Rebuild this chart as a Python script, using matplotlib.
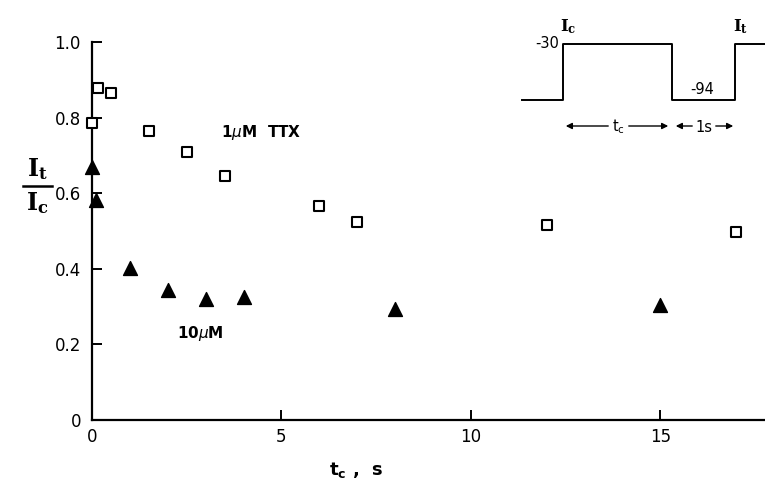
"""Recovery of I_t / I_c as a function of conditioning time t_c."""

import matplotlib

matplotlib.use("Agg")
import matplotlib.pyplot as plt

# 1 uM TTX (open squares)
ttx1_t = [0.0, 0.15, 0.5, 1.5, 2.5, 3.5, 6.0, 7.0, 12.0, 17.0]
ttx1_ratio = [0.785, 0.877, 0.865, 0.765, 0.708, 0.645, 0.566, 0.524, 0.516, 0.498]

# 10 uM TTX (filled triangles)
ttx10_t = [0.0, 0.1, 1.0, 2.0, 3.0, 4.0, 8.0, 15.0]
ttx10_ratio = [0.668, 0.582, 0.402, 0.345, 0.320, 0.325, 0.294, 0.305]

x_ticks = [0, 5, 10, 15]
y_ticks = [0, 0.2, 0.4, 0.6, 0.8, 1.0]
y_tick_labels = ["0", "0.2", "0.4", "0.6", "0.8", "1.0"]

# pulse protocol schematic (inset, in its own pixel-like units)
pulse_x = [22, 63, 63, 172, 172, 235, 235, 265]
pulse_y = [100, 100, 44, 44, 100, 100, 44, 44]

fig = plt.figure(figsize=(7.65, 4.82), dpi=100)
ax = fig.add_axes([92 / 765, 62 / 482, 673 / 765, 378 / 482])

ax.scatter(ttx1_t, ttx1_ratio, marker="s", s=50, facecolors="white",
           edgecolors="black", linewidths=1.5, zorder=3, clip_on=False)
ax.scatter(ttx10_t, ttx10_ratio, marker="^", s=100, color="black",
           zorder=3, clip_on=False)

ax.set_xlim(0, 17.76)
ax.set_ylim(0, 1.0)
for side in ("top", "right"):
    ax.spines[side].set_visible(False)
for side in ("left", "bottom"):
    ax.spines[side].set_linewidth(1.6)
ax.set_xticks(x_ticks)
ax.set_yticks(y_ticks)
ax.set_yticklabels(y_tick_labels)
ax.tick_params(direction="in", length=7, width=1.4, labelsize=12, pad=6)
ax.tick_params(axis="y", pad=8)

ax.text(3.4, 0.76, "1$\\mu$M  TTX", fontsize=11, fontweight="semibold", va="center")
ax.text(2.25, 0.23, "10$\\mu$M", fontsize=11, fontweight="semibold", va="center")

fig.text(356 / 765, 12 / 482, "t$_\\mathregular{c}$ ,  s", fontsize=13,
         fontweight="semibold", ha="center", va="center")

# stacked y label I_t / I_c
fig.text(37 / 765, 300 / 482, "$\\mathbf{I_t}$", fontsize=17, ha="center",
         va="bottom", math_fontfamily="dejavuserif")
fig.text(37 / 765, 292 / 482, "$\\mathbf{I_c}$", fontsize=17, ha="center",
         va="top", math_fontfamily="dejavuserif")
fig.add_artist(plt.Line2D([23 / 765, 52 / 765], [296 / 482, 296 / 482],
                          color="black", linewidth=1.8))

# inset: voltage protocol
ins = fig.add_axes([500 / 765, 332 / 482, 265 / 765, 150 / 482])
ins.set_xlim(0, 265)
ins.set_ylim(150, 0)
ins.axis("off")
ins.plot(pulse_x, pulse_y, color="black", linewidth=1.4, clip_on=False)
ins.text(60, 27, "$\\mathbf{I_c}$", fontsize=12, ha="left", va="center",
         math_fontfamily="dejavuserif")
ins.text(233, 27, "$\\mathbf{I_t}$", fontsize=12, ha="left", va="center",
         math_fontfamily="dejavuserif")
ins.text(59, 44, "-30", fontsize=10.5, ha="right", va="center")
ins.text(190, 89, "-94", fontsize=10.5, ha="left", va="center")

head = dict(arrowstyle="-|>", color="black", lw=1.0, mutation_scale=9)
ins.annotate("", xy=(63, 126), xytext=(111, 126), arrowprops=head)
ins.annotate("", xy=(171, 126), xytext=(126, 126), arrowprops=head)
ins.text(118, 127, "t$_\\mathregular{c}$", fontsize=10.5, ha="center", va="center")
ins.annotate("", xy=(173, 126), xytext=(195, 126), arrowprops=head)
ins.annotate("", xy=(236, 126), xytext=(213, 126), arrowprops=head)
ins.text(204, 127, "1s", fontsize=10.5, ha="center", va="center")

fig.savefig("out.png", dpi=100)
plt.close(fig)
